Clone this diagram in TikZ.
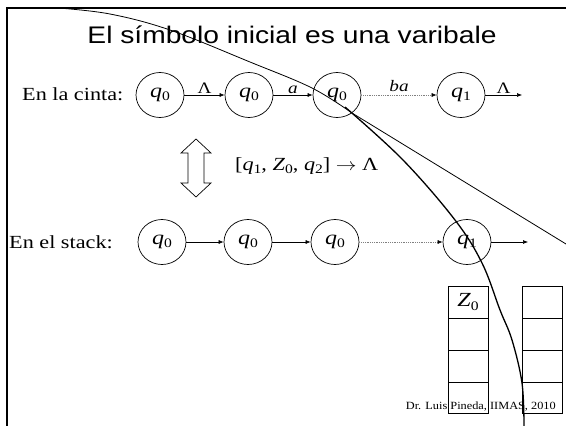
\documentclass[tikz,border=0pt]{standalone}
\usepackage{fontspec}
\setmainfont{Liberation Serif}
\newfontfamily\arialf{Liberation Sans}
\usetikzlibrary{arrows.meta,shapes.geometric}
\newcommand\hs[1]{\scalebox{1.2}[1]{#1}}
\newcommand\subsc[1]{\raisebox{-0.35ex}{\fontsize{13}{13}\selectfont #1}}
\newcommand\qsym[1]{\hs{\textit{q}\subsc{#1}}}
\begin{document}
\begin{tikzpicture}[x=1pt,y=-1pt,
  st/.style={draw, ellipse, minimum width=48pt, minimum height=45pt, inner sep=0pt, line width=0.7pt, font=\fontsize{20}{20}\selectfont},
  arr/.style={line width=0.6pt, -{Latex[length=5pt,width=4pt]}},
  dotarr/.style={line width=0.6pt, draw=gray, dash pattern=on 1pt off 0.8pt, -{Latex[length=5pt,width=4pt]}, arrows={[black]}},
  lab/.style={font=\fontsize{16}{16}\selectfont, inner sep=1pt, text=black},
  txt/.style={font=\fontsize{18.5}{18.5}\selectfont, inner sep=0pt},
  cell/.style={line width=1pt},
  frame/.style={line width=2.5pt}
]
\useasboundingbox (0,0) rectangle (566,426);
% frame
\draw[frame] (7,426) -- (7,8) -- (566,8);
% title
\node[font=\arialf\fontsize{24}{24}\selectfont, anchor=base] (title) at (292,43) {\scalebox{1.175}[1]{El símbolo inicial es una varibale}};
% row 1
\node[txt, anchor=base west] (cinta) at (22,100) {\hs{En la cinta:}};
\node[st] (c1) at (160,95) {\qsym{0}};
\node[st] (c2) at (249,95) {\qsym{0}};
\node[st] (c3) at (337,95) {\qsym{0}};
\node[st] (c4) at (461,95) {\qsym{1}};
\coordinate (e1) at (522,95);
\draw[arr] (c1) -- node[lab, above] (l1) {\hs{Λ}} (c2);
\draw[arr] (c2) -- node[lab, above] (l2) {\hs{\textit{a}}} (c3);
\draw[dotarr] (c3) -- node[lab, above, yshift=2pt] (l3) {\hs{\textit{ba}}} (c4);
\draw[arr] (c4) -- node[lab, above] (l4) {\hs{Λ}} (e1);
% double arrow
\draw[line width=0.7pt] (196,139) -- (211,153) -- (204,153) -- (204,183) -- (211,183) -- (196,197) -- (181,183) -- (188,183) -- (188,153) -- (181,153) -- cycle;
\node[txt, anchor=west] (rule) at (235,166) {\hs{[\textit{q}\subsc{1}, \textit{Z}\subsc{0}, \textit{q}\subsc{2}] $\rightarrow$ Λ}};
% row 2
\node[txt, anchor=base west] (stack) at (9,248) {\hs{En el stack:}};
\node[st] (d1) at (162,242) {\qsym{0}};
\node[st] (d2) at (248,242) {\qsym{0}};
\node[st] (d3) at (335,242) {\qsym{0}};
\node[st] (d4) at (467,242) {\qsym{1}};
\coordinate (e2) at (528,242);
\draw[arr] (d1) -- (d2);
\draw[arr] (d2) -- (d3);
\draw[dotarr] (d3) -- (d4);
\draw[arr] (d4) -- (e2);
% stacks
\foreach \x in {448,522} {
  \draw[cell] (\x,286) rectangle (\x+40,413);
  \foreach \y in {318,350,382} \draw[cell] (\x,\y) -- (\x+40,\y);
}
\node[font=\fontsize{20}{20}\selectfont, inner sep=0pt] (z0) at (468,302) {\hs{\textit{Z}\subsc{0}}};
% footer
\node[font=\fontsize{11}{11}\selectfont, anchor=base east, inner sep=0pt] (foot) at (556,409) {\scalebox{1.12}[1]{Dr. Luis Pineda, IIMAS, 2010}};
% annotation strokes
\draw[line width=0.8pt] plot[smooth, tension=0.6] coordinates {(58,8) (110,14) (170,30) (250,62) (312,88) (352,113)} -- (566,244);
\draw[line width=1.3pt] plot[smooth, tension=0.6] coordinates {(345,107) (403,160) (455,220) (482,263) (500,310) (512,340) (522,383) (524,426)};
\end{tikzpicture}
\end{document}
